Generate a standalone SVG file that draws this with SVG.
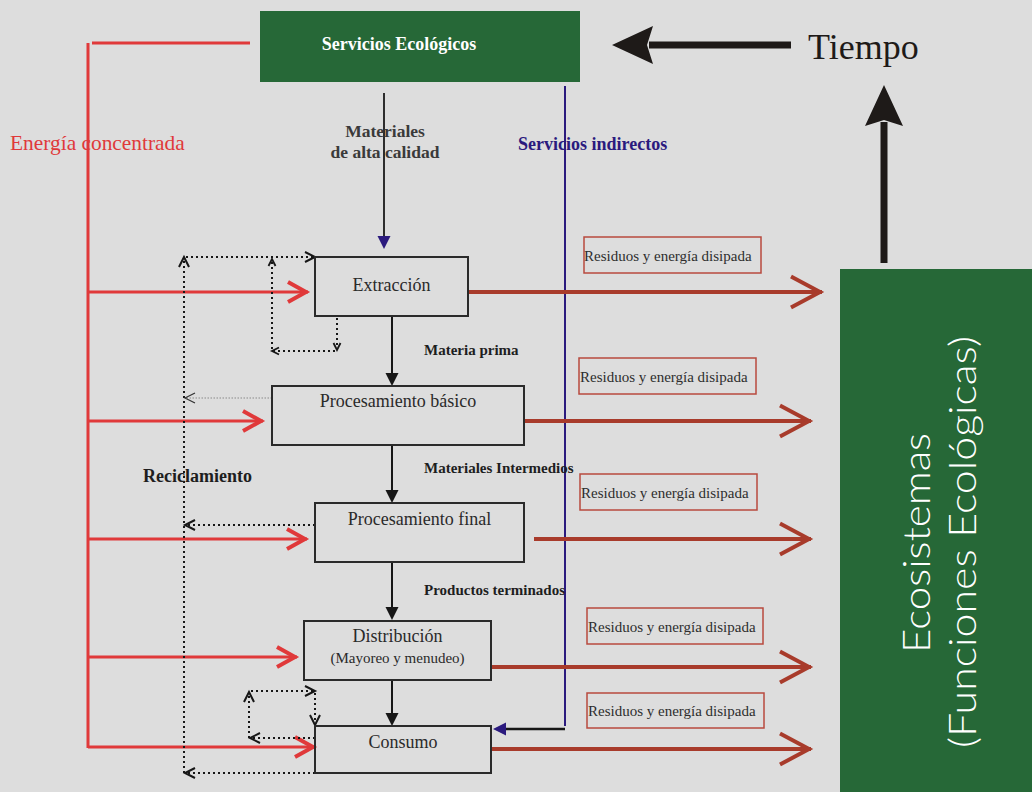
<svg xmlns="http://www.w3.org/2000/svg" width="1032" height="792" viewBox="0 0 1032 792">
  <style>
    .serif { font-family: "Liberation Serif", "Times New Roman", serif; }
    .stage rect { fill: none; stroke: #2a2a2a; stroke-width: 2; }
    .stage text { font-family: "Liberation Serif", serif; font-size: 18px; fill: #2a2a2a; text-anchor: middle; }
    .stage text.sub { font-size: 15px; }
    .flow-label { font-family: "Liberation Serif", serif; font-size: 15px; font-weight: bold; fill: #1e1e1e; }
    .waste rect { fill: none; stroke: #b8493e; stroke-width: 1.5; }
    .waste text { font-family: "Liberation Serif", serif; font-size: 15px; fill: #2e2e2e; }
    .energy { stroke: #e0393a; stroke-width: 3; fill: none; }
    .energy-in { stroke: #e0393a; stroke-width: 3; fill: none; marker-end: url(#ah-red); }
    .loss { stroke: #a83b2b; stroke-width: 4; fill: none; marker-end: url(#ah-brown); }
    .step { stroke: #161616; stroke-width: 2; fill: none; marker-end: url(#ah-black); }
    .recycle { stroke: #161616; stroke-width: 2; stroke-dasharray: 2 3; fill: none; marker-end: url(#ah-dot); }
    .recycle-small { stroke: #161616; stroke-width: 2; stroke-dasharray: 2 3; fill: none; marker-end: url(#ah-dot-small); }
    .recycle-faint { stroke: #8a8a8a; stroke-width: 1.2; stroke-dasharray: 1.5 1.5; fill: none; marker-end: url(#ah-dot-faint); }
    .time { stroke: #1e1a18; stroke-width: 7; fill: none; marker-end: url(#ah-big); }
  </style>
  <defs>
    <marker id="ah-red" markerUnits="userSpaceOnUse" markerWidth="30" markerHeight="30" viewBox="-26 -15 30 30" refX="0" refY="0" orient="auto" overflow="visible">
      <path d="M-20,-10 L-2,0 L-20,10" fill="none" stroke="#e0393a" stroke-width="4"/>
    </marker>
    <marker id="ah-brown" markerUnits="userSpaceOnUse" markerWidth="40" markerHeight="40" viewBox="-36 -20 40 40" refX="0" refY="0" orient="auto" overflow="visible">
      <path d="M-31,-15.5 L-2,0 L-31,15.5" fill="none" stroke="#a83b2b" stroke-width="4"/>
    </marker>
    <marker id="ah-black" markerUnits="userSpaceOnUse" markerWidth="16" markerHeight="16" viewBox="0 -8 16 16" refX="0" refY="0" orient="auto" overflow="visible">
      <path d="M0,-6.5 L13,0 L0,6.5 Z" fill="#161616"/>
    </marker>
    <marker id="ah-navy" markerUnits="userSpaceOnUse" markerWidth="16" markerHeight="16" viewBox="0 -8 16 16" refX="0" refY="0" orient="auto" overflow="visible">
      <path d="M0,-6.5 L13,0 L0,6.5 Z" fill="#2b1a7e"/>
    </marker>
    <marker id="ah-dot" markerUnits="userSpaceOnUse" markerWidth="14" markerHeight="14" viewBox="-12 -7 14 14" refX="0" refY="0" orient="auto" overflow="visible">
      <path d="M-10,-5 L0,0 L-10,5" fill="none" stroke="#161616" stroke-width="2"/>
    </marker>
    <marker id="ah-dot-small" markerUnits="userSpaceOnUse" markerWidth="10" markerHeight="10" viewBox="-9 -5 10 10" refX="0" refY="0" orient="auto" overflow="visible">
      <path d="M-7,-3.5 L0,0 L-7,3.5" fill="none" stroke="#161616" stroke-width="1.8"/>
    </marker>
    <marker id="ah-dot-faint" markerUnits="userSpaceOnUse" markerWidth="14" markerHeight="14" viewBox="-12 -7 14 14" refX="0" refY="0" orient="auto" overflow="visible">
      <path d="M-10,-5 L0,0 L-10,5" fill="none" stroke="#333" stroke-width="1.2"/>
    </marker>
    <marker id="ah-big" markerUnits="userSpaceOnUse" markerWidth="50" markerHeight="50" viewBox="-8 -25 50 50" refX="0" refY="0" orient="auto" overflow="visible">
      <path d="M-4,-19 L37,0 L-4,19 L2,0 Z" fill="#1e1a18"/>
    </marker>
  </defs>

  <rect width="1032" height="792" fill="#dddddd"/>

  <!-- connectors -->
  <g id="connectors">
    <!-- concentrated energy feed -->
    <path class="energy" d="M250,43 L92,43"/>
    <path class="energy" d="M88,43 L88,748"/>
    <path class="energy-in" d="M88,292 L308,292"/>
    <path class="energy-in" d="M88,421 L263,421"/>
    <path class="energy-in" d="M88,539 L307,539"/>
    <path class="energy-in" d="M88,657 L297,657"/>
    <path class="energy-in" d="M88,747 L315,747"/>

    <!-- high quality materials -->
    <path d="M384,93 L384,236" stroke="#2d2d2d" stroke-width="2" fill="none" marker-end="url(#ah-navy)"/>

    <!-- indirect services -->
    <path d="M565,86 L565,726" stroke="#2b1a7e" stroke-width="2" fill="none"/>
    <path d="M565,729 L506,729" stroke="#161616" stroke-width="2.5" fill="none" marker-end="url(#ah-navy)"/>

    <!-- production chain -->
    <path class="step" d="M392,316 L392,373"/>
    <path class="step" d="M392,445 L392,490"/>
    <path class="step" d="M392,562 L392,607"/>
    <path class="step" d="M392,680 L392,713"/>

    <!-- waste and dissipated energy -->
    <path class="loss" d="M468,292 L822,292"/>
    <path class="loss" d="M524,421 L811,421"/>
    <path class="loss" d="M534,539 L811,539"/>
    <path class="loss" d="M491,667 L811,667"/>
    <path class="loss" d="M491,749 L811,749"/>

    <!-- recycling loops -->
    <path class="recycle" d="M184,773 L184,257"/>
    <path class="recycle" d="M186,257 L315,257"/>
    <path class="recycle-small" d="M337,318 L337,350"/>
    <path class="recycle-small" d="M335,351 L272,351"/>
    <path class="recycle-small" d="M272,349 L272,259"/>
    <path class="recycle-faint" d="M272,398 L185,398"/>
    <path class="recycle" d="M315,525 L185,525"/>
    <path class="recycle" d="M315,738 L250,738"/>
    <path class="recycle" d="M249,738 L249,692"/>
    <path class="recycle" d="M251,691 L315,691"/>
    <path class="recycle" d="M315,693 L315,725"/>
    <path class="recycle" d="M315,773 L185,773"/>

    <!-- time -->
    <path class="time" d="M791,45 L649,45"/>
    <path class="time" d="M884,263 L884,122"/>
  </g>

  <!-- labels on connectors -->
  <text class="serif" x="10" y="150" font-size="21.4" fill="#e0393a">Energía concentrada</text>
  <text class="serif" x="385" y="137" font-size="17.5" font-weight="bold" fill="#3a3a3a" text-anchor="middle">Materiales</text>
  <text class="serif" x="385" y="158" font-size="17.5" font-weight="bold" fill="#3a3a3a" text-anchor="middle">de alta calidad</text>
  <text class="serif" x="518" y="150" font-size="18" font-weight="bold" fill="#2b1a7e">Servicios indirectos</text>
  <text class="flow-label" x="424" y="355">Materia prima</text>
  <text class="flow-label" x="424" y="473">Materiales Intermedios</text>
  <text class="flow-label" x="424" y="595">Productos terminados</text>
  <text class="serif" x="143" y="482" font-size="18" font-weight="bold" fill="#1e1e1e">Reciclamiento</text>
  <text class="serif" x="808" y="59" font-size="36" fill="#1e1a18">Tiempo</text>

  <!-- ecological services source -->
  <g id="servicios-ecologicos">
    <rect x="260" y="11" width="320" height="71" fill="#266837"/>
    <text class="serif" x="399" y="50" font-size="18" font-weight="bold" fill="#ffffff" text-anchor="middle">Servicios Ecológicos</text>
  </g>

  <!-- ecosystems sink -->
  <g id="ecosistemas">
    <rect x="840" y="269" width="192" height="523" fill="#266837"/>
    <text transform="translate(930,543) rotate(-90)" font-family="Lato, 'Noto Sans', sans-serif" font-weight="300" font-size="37" fill="#ffffff" text-anchor="middle" textLength="220" lengthAdjust="spacingAndGlyphs">Ecosistemas</text>
    <text transform="translate(976,542) rotate(-90)" font-family="Lato, 'Noto Sans', sans-serif" font-weight="300" font-size="37" fill="#ffffff" text-anchor="middle" textLength="412" lengthAdjust="spacingAndGlyphs">(Funciones Ecológicas)</text>
  </g>

  <!-- production stages -->
  <g id="extraccion" class="stage">
    <rect x="315" y="257" width="153" height="59"/>
    <text x="391.5" y="291">Extracción</text>
  </g>
  <g id="procesamiento-basico" class="stage">
    <rect x="272" y="386" width="252" height="59"/>
    <text x="398" y="407">Procesamiento básico</text>
  </g>
  <g id="procesamiento-final" class="stage">
    <rect x="315" y="503" width="209" height="59"/>
    <text x="419.5" y="525">Procesamiento final</text>
  </g>
  <g id="distribucion" class="stage">
    <rect x="304" y="621" width="187" height="59"/>
    <text x="397.5" y="642">Distribución</text>
    <text class="sub" x="397.5" y="663">(Mayoreo y menudeo)</text>
  </g>
  <g id="consumo" class="stage">
    <rect x="315" y="726" width="176" height="47"/>
    <text x="403" y="748">Consumo</text>
  </g>

  <!-- waste labels -->
  <g id="residuos-1" class="waste">
    <rect x="584" y="237" width="177" height="36"/>
    <text x="584" y="261">Residuos y energía disipada</text>
  </g>
  <g id="residuos-2" class="waste">
    <rect x="579" y="358" width="177" height="36"/>
    <text x="580" y="382">Residuos y energía disipada</text>
  </g>
  <g id="residuos-3" class="waste">
    <rect x="580" y="474" width="177" height="36"/>
    <text x="581" y="498">Residuos y energía disipada</text>
  </g>
  <g id="residuos-4" class="waste">
    <rect x="587" y="608" width="176" height="36"/>
    <text x="588" y="632">Residuos y energía disipada</text>
  </g>
  <g id="residuos-5" class="waste">
    <rect x="587" y="693" width="177" height="35"/>
    <text x="588" y="716">Residuos y energía disipada</text>
  </g>
</svg>
